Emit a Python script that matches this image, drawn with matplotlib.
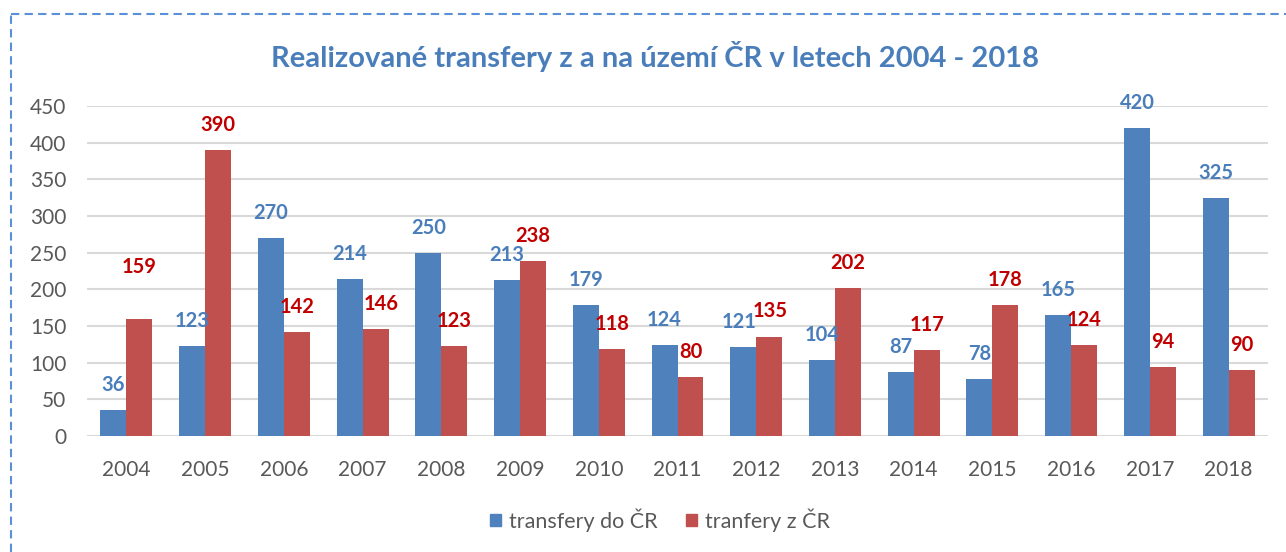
import matplotlib
matplotlib.use("Agg")
import matplotlib.pyplot as plt
from matplotlib.lines import Line2D
import numpy as np

years = ["2004", "2005", "2006", "2007", "2008", "2009", "2010", "2011",
         "2012", "2013", "2014", "2015", "2016", "2017", "2018"]
transfers_in = [36, 123, 270, 214, 250, 213, 179, 124, 121, 104, 87, 78, 165, 420, 325]
transfers_out = [159, 390, 142, 146, 123, 238, 118, 80, 135, 202, 117, 178, 124, 94, 90]
yticks = [0, 50, 100, 150, 200, 250, 300, 350, 400, 450]

title = "Realizované transfery z a na území ČR v letech 2004 - 2018"
label_in = "transfery do ČR"
label_out = "tranfery z ČR"

# label offset tweaks (points) for manually moved labels: (series, index) -> (dx, dy)
label_shift = {("out", 0): (0, 20), ("out", 3): (4, 0), ("in", 8): (-3, 0), ("out", 8): (1, 1)}

BLUE = "#4F81BD"
RED = "#C0504D"
BLUE_TXT = "#4A7EBB"
RED_TXT = "#C00000"
GRAY = "#595959"

plt.rcParams['font.family'] = ['Lato', 'DejaVu Sans']

fig = plt.figure(figsize=(12.86, 5.52), dpi=100)
ax = fig.add_axes([87/1286, 1-436/552, (1268-87)/1286, (436-106)/552])

x = np.arange(len(years))
w = 0.33
b1 = ax.bar(x - w/2, transfers_in, w, color=BLUE, zorder=3)
b2 = ax.bar(x + w/2, transfers_out, w, color=RED, zorder=3)

for series, bars, vals, col in (("in", b1, transfers_in, BLUE_TXT), ("out", b2, transfers_out, RED_TXT)):
    for i, (bar, v) in enumerate(zip(bars, vals)):
        dx, dy = label_shift.get((series, i), (0, 0))
        ax.annotate(str(v), (bar.get_x() + bar.get_width()/2, v),
                    xytext=(dx, 18 + dy), textcoords="offset points",
                    ha="center", va="center", fontsize=14.5, fontweight="bold",
                    color=col, zorder=4)

ax.set_xlim(-0.5, len(years) - 0.5)
ax.set_ylim(0, 450)
ax.set_yticks(yticks)
ax.set_xticks(x)
ax.set_xticklabels(years)
ax.yaxis.grid(True, color="#D9D9D9", linewidth=1.5, zorder=0)
for s in ["top", "right", "left", "bottom"]:
    ax.spines[s].set_visible(False)
ax.tick_params(axis="both", length=0, labelsize=15, colors=GRAY)
ax.tick_params(axis="y", pad=15)
ax.tick_params(axis="x", pad=17)

fig.text(655/1286, 1-57/552, title, ha="center", va="center",
         fontsize=21, fontweight="bold", color=BLUE_TXT)

handles = [plt.Rectangle((0, 0), 1, 1, color=BLUE), plt.Rectangle((0, 0), 1, 1, color=RED)]
fig.legend(handles, [label_in, label_out], loc="center", bbox_to_anchor=(660/1286, 1-520/552),
           ncol=2, frameon=False, fontsize=15.5, handlelength=0.5, handleheight=0.5,
           handletextpad=0.4, columnspacing=1.3, labelcolor=GRAY)

# dashed border (left & top)
bx, by = 11/1286, 1-14/552
fig.add_artist(Line2D([bx, bx], [0, by], transform=fig.transFigure, color="#5B8FD6",
                      linewidth=1.5, linestyle=(0, (4, 2.5))))
fig.add_artist(Line2D([bx, 1], [by, by], transform=fig.transFigure, color="#5B8FD6",
                      linewidth=1.5, linestyle=(0, (4, 2.5))))

fig.savefig("out.png", dpi=100, facecolor="white")
